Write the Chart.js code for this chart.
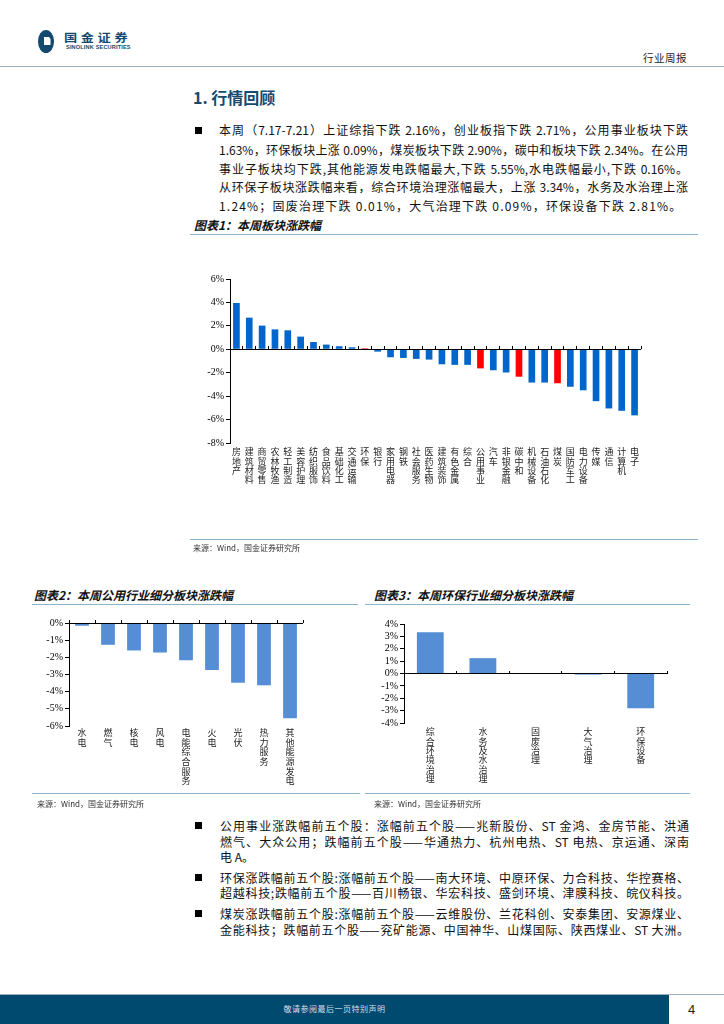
<!DOCTYPE html>
<html><head><meta charset="utf-8">
<script src="https://cdn.jsdelivr.net/npm/chart.js@4.4.0/dist/chart.umd.min.js"></script>
<style>
body{margin:0;width:724px;height:1024px;position:relative;background:#fff;font-family:"Noto Sans CJK SC","Noto Sans",sans-serif;overflow:hidden;color:#111}
.a{position:absolute}
.ln{position:absolute;height:1px;background:#8EB4CB}
.pl{position:absolute;left:219px;width:469px;font-size:12px;line-height:19px;height:19px;text-align:justify;text-align-last:justify;white-space:nowrap}
.bl{position:absolute;left:220px;width:469px;font-size:12px;line-height:15.5px;height:15.5px;text-align:justify;text-align-last:justify;white-space:nowrap}
.left{text-align:left;text-align-last:left}
.sq{position:absolute;width:7px;height:7px;background:#000;left:195px}
.ttl{position:absolute;font-size:12px;font-weight:bold;font-style:italic;color:#111;line-height:14px}
.src{position:absolute;font-size:8px;color:#333;line-height:10px}
canvas{position:absolute}
</style></head>
<body>
<!-- header -->
<svg class="a" style="left:37px;top:29px" width="18" height="25" viewBox="0 0 18 25">
<ellipse cx="9" cy="12.5" rx="8" ry="11.5" fill="#144A6E"/>
<path d="M7 8 L12 8 L13.5 10 L13.5 16 L7 16 Z" fill="#fff"/>
</svg>
<div class="a" style="left:64px;top:31px;font-size:11px;font-weight:bold;color:#144A6E;line-height:12px;letter-spacing:3px;transform:scaleX(1.2);transform-origin:left top">国金证券</div>
<div class="a" style="left:66px;top:44px;font-family:'Liberation Sans',Arial;font-size:5.6px;font-weight:bold;color:#144A6E;line-height:7px;letter-spacing:0.15px">SINOLINK SECURITIES</div>
<div class="a" style="left:643px;top:51px;font-size:10.5px;color:#222;line-height:13px;letter-spacing:0.5px">行业周报</div>
<div class="a" style="left:0;top:66px;width:724px;height:1px;background:#9DB0C0"></div>

<div class="a" style="left:193px;top:87px;font-size:16px;font-weight:bold;color:#174A6E;line-height:20px">1. 行情回顾</div>
<div class="sq" style="top:127px"></div>
<div class="pl" style="top:120px">本周（7.17-7.21）上证综指下跌 2.16%，创业板指下跌 2.71%，公用事业板块下跌</div>
<div class="pl" style="top:140px">1.63%，环保板块上涨 0.09%，煤炭板块下跌 2.90%，碳中和板块下跌 2.34%。在公用</div>
<div class="pl" style="top:159px">事业子板块均下跌,其他能源发电跌幅最大,下跌 5.55%,水电跌幅最小,下跌 0.16%。</div>
<div class="pl" style="top:177px">从环保子板块涨跌幅来看，综合环境治理涨幅最大，上涨 3.34%，水务及水治理上涨</div>
<div class="pl left" style="top:196px;letter-spacing:1.2px">1.24%；固废治理下跌 0.01%，大气治理下跌 0.09%，环保设备下跌 2.81%。</div>

<div class="ttl" style="left:194px;top:218px">图表1：本周板块涨跌幅</div>
<div class="ln" style="left:190px;top:234px;width:508px"></div>
<canvas id="c1" width="510" height="275" style="left:190px;top:265px;width:510px;height:275px"></canvas>
<div class="ln" style="left:190px;top:539px;width:508px"></div>
<div class="src" style="left:193px;top:543px">来源：Wind，国金证券研究所</div>

<div class="ttl" style="left:34px;top:588px">图表2：本周公用行业细分板块涨跌幅</div>
<div class="ln" style="left:32px;top:604px;width:326px"></div>
<div class="ttl" style="left:374px;top:588px">图表3：本周环保行业细分板块涨跌幅</div>
<div class="ln" style="left:365px;top:604px;width:325px"></div>
<canvas id="c2" width="328" height="190" style="left:30px;top:610px;width:328px;height:190px"></canvas>
<canvas id="c3" width="330" height="190" style="left:365px;top:610px;width:330px;height:190px"></canvas>
<div class="ln" style="left:32px;top:793px;width:328px"></div>
<div class="ln" style="left:365px;top:793px;width:325px"></div>
<div class="src" style="left:37px;top:799px">来源：Wind，国金证券研究所</div>
<div class="src" style="left:374px;top:799px">来源：Wind，国金证券研究所</div>

<div class="sq" style="top:822px"></div>
<div class="bl" style="top:818px">公用事业涨跌幅前五个股：涨幅前五个股——兆新股份、ST 金鸿、金房节能、洪通</div>
<div class="bl" style="top:834px">燃气、大众公用；跌幅前五个股——华通热力、杭州电热、ST 电热、京运通、深南</div>
<div class="bl left" style="top:849px">电 A。</div>
<div class="sq" style="top:874px"></div>
<div class="bl" style="top:870px">环保涨跌幅前五个股:涨幅前五个股——南大环境、中原环保、力合科技、华控赛格、</div>
<div class="bl" style="top:885px">超越科技;跌幅前五个股——百川畅银、华宏科技、盛剑环境、津膜科技、皖仪科技。</div>
<div class="sq" style="top:910px"></div>
<div class="bl" style="top:906px">煤炭涨跌幅前五个股:涨幅前五个股——云维股份、兰花科创、安泰集团、安源煤业、</div>
<div class="bl" style="top:922px">金能科技；跌幅前五个股——兖矿能源、中国神华、山煤国际、陕西煤业、ST 大洲。</div>

<!-- footer -->
<div class="a" style="left:0;top:994px;width:724px;height:1px;background:#9DB0C0"></div>
<div class="a" style="left:0;top:995px;width:669px;height:29px;background:#004A6F"></div>
<div class="a" style="left:0;top:1004px;width:669px;text-align:center;font-size:8px;color:#d5dde5;line-height:10px;letter-spacing:0.5px">敬请参阅最后一页特别声明</div>
<div class="a" style="left:688px;top:1002px;font-family:'Liberation Sans',Arial;font-size:13px;color:#222;line-height:16px">4</div>

<script>
// ---- data ----
const cats1 = ['房地产','建筑材料','商贸零售','农林牧渔','轻工制造','美容护理','纺织服饰','食品饮料','基础化工','交通运输','环保','银行','家用电器','钢铁','社会服务','医药生物','建筑装饰','有色金属','综合','公用事业','汽车','非银金融','碳中和','机械设备','石油石化','煤炭','国防军工','电力设备','传媒','通信','计算机','电子'];
const vals1 = [3.95,2.70,2.02,1.70,1.62,1.08,0.62,0.40,0.26,0.17,0.09,-0.20,-0.68,-0.74,-0.82,-0.88,-1.28,-1.33,-1.33,-1.63,-1.79,-1.98,-2.34,-2.84,-2.84,-2.90,-3.20,-3.50,-4.43,-5.05,-5.25,-5.64];
const highlight1 = ['环保','公用事业','碳中和','煤炭'];
const yRange1 = [-8, 6, 2];

const cats2 = ['水电','燃气','核电','风电','电能综合服务','火电','光伏','热力服务','其他能源发电'];
const vals2 = [-0.16,-1.27,-1.60,-1.72,-2.17,-2.74,-3.48,-3.63,-5.55];
const yRange2 = [-6, 0, 1];

const cats3 = ['综合环境治理','水务及水治理','固废治理','大气治理','环保设备'];
const vals3 = [3.34,1.24,-0.01,-0.09,-2.81];
const yRange3 = [-4, 4, 1];

// ---- drawing ----
function makeChart(id, cats, vals, colors, yr, geo) {
  new Chart(document.getElementById(id), {
    type: 'bar',
    data: { labels: cats.map(c => c.split('')), datasets: [{ data: vals, backgroundColor: colors, borderWidth: 0, barPercentage: geo.bar, categoryPercentage: 1 }] },
    options: {
      responsive: false, animation: false, devicePixelRatio: 1,
      layout: { padding: { top: geo.top, right: geo.right, left: 0, bottom: 0 } },
      plugins: { legend: { display: false }, tooltip: { enabled: false } },
      scales: {
        x: {
          type: 'category', position: 'bottom', offset: true,
          grid: { display: false, drawTicks: false }, border: { display: false },
          ticks: { autoSkip: false, maxRotation: 0, minRotation: 0, padding: geo.lpad, color: '#222',
                   font: { family: 'Noto Sans CJK SC', size: geo.fs, lineHeight: geo.lh } },
          afterFit: s => { s.height = geo.xh; }
        },
        x2: {
          type: 'category', labels: cats, position: { y: 0 }, offset: true,
          grid: { display: true, offset: true, drawOnChartArea: false, drawTicks: true, tickLength: -3, tickColor: '#000', color: '#000', z: 2 },
          ticks: { display: false }, border: { display: false }
        },
        y: {
          min: yr[0], max: yr[1],
          ticks: { stepSize: yr[2], autoSkip: false, callback: v => v + '%', color: '#000', padding: 2,
                   font: { family: 'Liberation Serif', size: 10 } },
          grid: { z: 1, color: c => (c.tick && c.tick.value === 0) ? '#000' : 'rgba(0,0,0,0)', tickColor: '#000', tickLength: 4, drawTicks: true },
          border: { display: true, color: '#000', width: 1, z: 2 },
          afterFit: s => { s.width = geo.yw; }
        }
      }
    }
  });
}

makeChart('c1', cats1, vals1, cats1.map(c => highlight1.includes(c) ? '#FF0000' : '#0066CC'), yRange1,
  { bar: 0.52, top: 14, right: 59, xh: 97, yw: 40, fs: 9, lh: 1.05, lpad: 4 });
makeChart('c2', cats2, vals2, '#558ED5', yRange2,
  { bar: 0.53, top: 13, right: 55, xh: 74, yw: 39, fs: 9, lh: 1.07, lpad: 2 });
makeChart('c3', cats3, vals3, '#558ED5', yRange3,
  { bar: 0.51, top: 14, right: 28, xh: 77, yw: 39, fs: 9, lh: 1.05, lpad: 4 });
</script>
</body></html>
